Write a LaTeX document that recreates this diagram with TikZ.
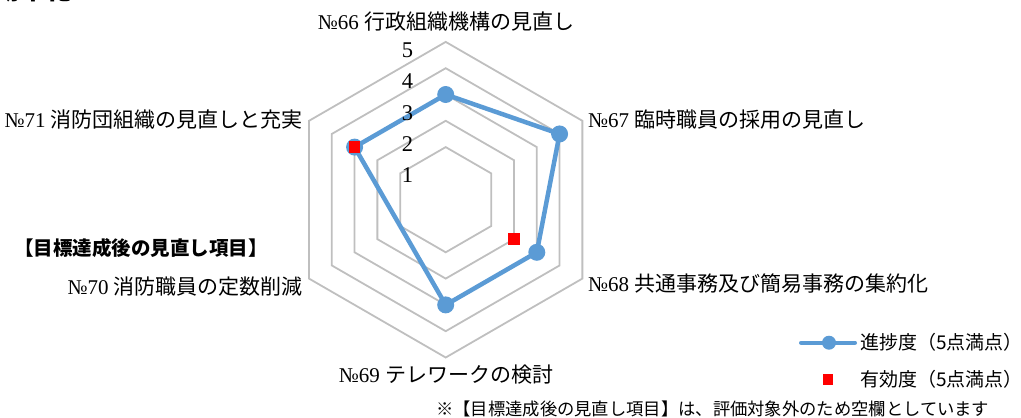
\documentclass[tikz,border=0pt]{standalone}
\usepackage{fontspec}
\setmainfont{Liberation Serif}
\newfontfamily\jp{Noto Sans CJK JP}
\begin{document}
\begin{tikzpicture}[x=1pt,y=-1pt,
  grid/.style={draw=black!25, line width=1.8pt, line join=miter},
  series/.style={draw=serblue, line width=4.5pt, line join=round},
  dot/.style={circle, fill=serblue, minimum size=17pt, inner sep=0},
  sq/.style={rectangle, fill=red, minimum size=11.5pt, inner sep=0},
  axlab/.style={font=\fontsize{21}{24}\selectfont, inner sep=0},
  lvl/.style={font=\fontsize{22.5}{24}\selectfont, inner sep=0},
  leg/.style={font=\jp\fontsize{19}{21}\selectfont, inner sep=0, anchor=west},
]
\definecolor{serblue}{HTML}{5B9BD5}
\useasboundingbox (0,0) rectangle (1021,418);
% cut-off heading fragment
\begin{scope}
\clip (0,0) rectangle (1021,418);
\node[font=\jp\bfseries\fontsize{26}{30}\selectfont, inner sep=0, anchor=base west] (frag) at (-6,-1) {効率化};
\end{scope}
% radar chart
\begin{scope}[shift={(445.7,199.7)}]
\foreach \v in {1,...,5}{
  \pgfmathsetmacro{\r}{26.3*(\v+1)}
  \draw[grid] (-90:\r) -- (-30:\r) -- (30:\r) -- (90:\r) -- (150:\r) -- (210:\r) -- cycle;
}
\coordinate (p66) at (-90:105.2);
\coordinate (p67) at (-30:131.5);
\coordinate (p68) at (30:105.2);
\coordinate (p69) at (90:105.2);
\coordinate (p71) at (210:105.2);
\coordinate (e68) at (30:78.9);
\draw[series] (p66) -- (p67) -- (p68) -- (p69) -- (p71) -- cycle;
\foreach \p in {p66,p67,p68,p69,p71}{\node[dot] (m\p) at (\p) {};}
\node[sq] (s71) at (p71) {};
\node[sq] (s68) at (e68) {};
\end{scope}
% level labels
\node[lvl] (l5) at (407.5,50) {5};
\node[lvl] (l4) at (407.5,81.5) {4};
\node[lvl] (l3) at (407.5,113) {3};
\node[lvl] (l2) at (407.5,144) {2};
\node[lvl] (l1) at (407.5,175) {1};
% axis labels
\node[axlab, anchor=center] (a66) at (446,22) {№66 {\jp 行政組織機構の見直し}};
\node[axlab, anchor=west] (a67) at (588,120) {№67 {\jp 臨時職員の採用の見直し}};
\node[axlab, anchor=west] (a68) at (588,283.5) {№68 {\jp 共通事務及び簡易事務の集約化}};
\node[axlab, anchor=center] (a69) at (446,375) {№69 {\jp テレワークの検討}};
\node[axlab, anchor=east] (a70) at (303,287) {№70 {\jp 消防職員の定数削減}};
\node[axlab, anchor=east] (a71) at (303,120) {№71 {\jp 消防団組織の見直しと充実}};
\node[font=\jp\bfseries\fontsize{19.5}{22}\selectfont, inner sep=0, anchor=west] (head) at (14,248) {【目標達成後の見直し項目】};
% legend
\coordinate (la) at (801,342.7);
\coordinate (lb) at (855,342.7);
\draw[series, line width=4pt, line cap=round] (la) -- (lb);
\node[dot, minimum size=14pt] (lm) at (829,342.7) {};
\node[leg] (lt1) at (860,342.7) {進捗度（5点満点）};
\node[sq, minimum size=10.5pt] (ls) at (828,379.5) {};
\node[leg] (lt2) at (860,379.5) {有効度（5点満点）};
% note
\node[font=\jp\fontsize{17.3}{19}\selectfont, inner sep=0, anchor=west] (note) at (436,409) {※【目標達成後の見直し項目】は、評価対象外のため空欄としています};
\end{tikzpicture}
\end{document}
